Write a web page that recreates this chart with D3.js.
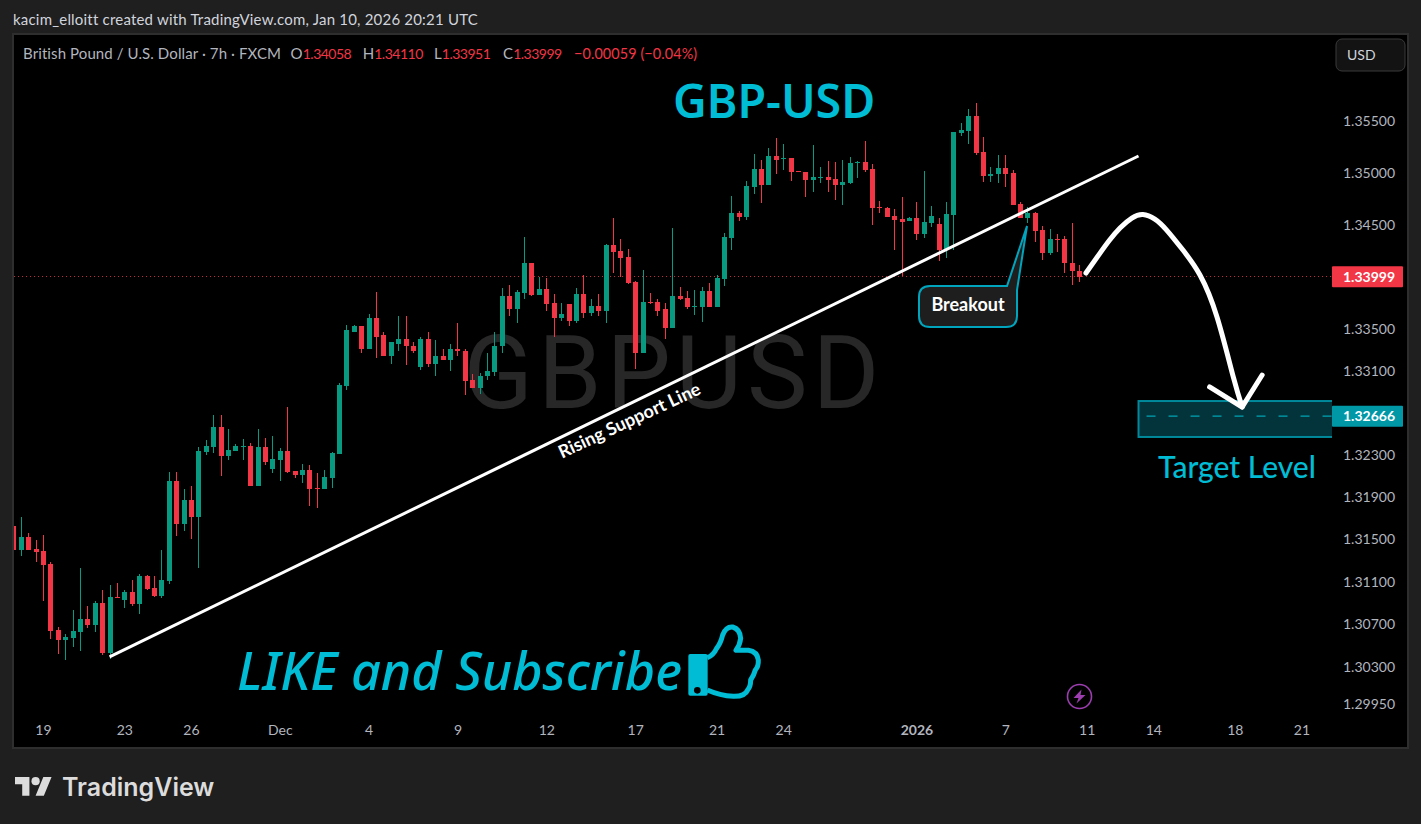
<!DOCTYPE html>
<html>
<head>
<meta charset="utf-8">
<script src="https://cdn.jsdelivr.net/npm/d3@7/dist/d3.min.js"></script>
<style>
  html, body { margin: 0; padding: 0; background: #1f1f1f; overflow: hidden; }
  text { font-family: Lato, "Open Sans", sans-serif; }
</style>
</head>
<body>
<div id="chart"></div>
<script>
// 1: DATA (one entry per 7h candle)
const candleOpen = [
  1.31620,1.31402,1.31525,1.31412,1.31393,1.31270,1.30646,1.30552,1.30571,1.30628,
  1.30750,1.30694,1.30902,1.30429,1.30958,1.30930,1.31006,1.30892,1.31157,1.31043,
  1.30968,1.31110,1.32055,1.31639,1.31875,1.31705,1.32329,1.32376,1.32565,1.32291,
  1.32338,1.32376,1.32385,1.32007,1.32376,1.32168,1.32253,1.32338,1.32149,1.32111,
  1.32158,1.31988,1.31970,1.32083,1.32306,1.32957,1.33474,1.33522,1.33311,1.33608,
  1.33436,1.33235,1.33359,1.33398,1.33340,1.33130,1.33398,1.33168,1.33244,1.33197,
  1.33302,1.33292,1.33015,1.32938,1.33044,1.33091,1.33331,1.33819,1.33685,1.33847,
  1.34134,1.33828,1.33886,1.33752,1.33608,1.33733,1.33570,1.33838,1.33656,1.33723,
  1.33666,1.34307,1.34249,1.34192,1.33953,1.33264,1.33761,1.33761,1.33685,1.33512,
  1.33815,1.33796,1.33709,1.33709,1.33863,1.33709,1.33979,1.34375,1.34617,1.34578,
  1.34868,1.35042,1.34887,1.35167,1.35138,1.35148,1.35022,1.35013,1.34935,1.34955,
  1.34964,1.34945,1.34887,1.34906,1.35100,1.35109,1.35042,1.34675,1.34665,1.34588,
  1.34559,1.34532,1.34561,1.34407,1.34513,1.34503,1.34252,1.34590,1.35391,1.35410,
  1.35555,1.35208,1.34976,1.34986,1.35053,1.35005,1.34696,1.34561,1.34609,1.34445,
  1.34223,1.34358,1.34358,1.34136,1.34058
];
const candleHigh = [
  1.31771,1.31714,1.31560,1.31488,1.31544,1.31289,1.30675,1.30609,1.30835,1.31232,
  1.30873,1.30921,1.31024,1.31072,1.31091,1.31024,1.31119,1.31176,1.31166,1.31157,
  1.31402,1.32140,1.32140,1.31970,1.32007,1.32376,1.32442,1.32678,1.32678,1.32546,
  1.32404,1.32451,1.32414,1.32546,1.32461,1.32480,1.32366,1.32754,1.32149,1.32215,
  1.32206,1.32130,1.32158,1.32329,1.32985,1.33532,1.33541,1.33522,1.33637,1.33857,
  1.33465,1.33369,1.33627,1.33627,1.33369,1.33426,1.33465,1.33388,1.33302,1.33350,
  1.33560,1.33311,1.33072,1.33082,1.33273,1.33474,1.33895,1.33924,1.33876,1.34383,
  1.34134,1.34001,1.33991,1.33838,1.33752,1.33742,1.33895,1.34020,1.33790,1.33838,
  1.34316,1.34565,1.34364,1.34268,1.33962,1.34067,1.33847,1.33790,1.33752,1.34469,
  1.33902,1.33863,1.33873,1.33902,1.33940,1.34018,1.34423,1.34781,1.34636,1.34926,
  1.35187,1.35129,1.35245,1.35341,1.35283,1.35148,1.35022,1.35013,1.35273,1.35061,
  1.35119,1.35109,1.35129,1.35158,1.35119,1.35312,1.35090,1.34733,1.34675,1.34655,
  1.34771,1.34571,1.34715,1.35024,1.34677,1.34561,1.34715,1.35401,1.35488,1.35623,
  1.35681,1.35352,1.35063,1.35179,1.35179,1.35034,1.34715,1.34667,1.34619,1.34484,
  1.34455,1.34407,1.34387,1.34513,1.34110
];
const candleLow = [
  1.31377,1.31339,1.31402,1.31289,1.30921,1.30561,1.30420,1.30363,1.30486,1.30448,
  1.30665,1.30628,1.30410,1.30372,1.30949,1.30854,1.30873,1.30798,1.31024,1.30958,
  1.30949,1.31081,1.31535,1.31573,1.31506,1.31232,1.32300,1.32319,1.32102,1.32253,
  1.32338,1.32253,1.32007,1.32007,1.32206,1.32130,1.32055,1.32130,1.32083,1.32036,
  1.31809,1.31799,1.31970,1.31988,1.32306,1.32919,1.33465,1.33273,1.33311,1.33216,
  1.33235,1.33168,1.33283,1.33158,1.33264,1.33110,1.33139,1.33053,1.33197,1.33101,
  1.33235,1.32871,1.32938,1.32881,1.33015,1.33044,1.33264,1.33627,1.33551,1.33790,
  1.33819,1.33828,1.33675,1.33426,1.33570,1.33522,1.33560,1.33599,1.33618,1.33618,
  1.33551,1.34039,1.34001,1.33933,1.33120,1.33264,1.33733,1.33618,1.33407,1.33503,
  1.33776,1.33689,1.33631,1.33564,1.33709,1.33709,1.33911,1.34259,1.34539,1.34549,
  1.34800,1.34713,1.34887,1.34993,1.35032,1.34926,1.35013,1.34771,1.34819,1.34906,
  1.34819,1.34742,1.34694,1.34897,1.34955,1.35013,1.34501,1.34617,1.34578,1.34259,
  1.34008,1.34532,1.34349,1.34368,1.34474,1.34146,1.34175,1.34252,1.35362,1.35285,
  1.35179,1.34918,1.34918,1.34899,1.34860,1.34686,1.34561,1.34513,1.34329,1.34165,
  1.34204,1.34233,1.34040,1.33924,1.33951
];
const candleClose = [
  1.31402,1.31525,1.31402,1.31384,1.31261,1.30637,1.30552,1.30580,1.30637,1.30750,
  1.30694,1.30902,1.30429,1.30958,1.30949,1.31006,1.30892,1.31157,1.31034,1.30968,
  1.31119,1.32055,1.31639,1.31875,1.31705,1.32338,1.32385,1.32565,1.32291,1.32347,
  1.32385,1.32385,1.32007,1.32376,1.32234,1.32262,1.32338,1.32140,1.32111,1.32158,
  1.31979,1.31970,1.32092,1.32319,1.32967,1.33484,1.33522,1.33311,1.33608,1.33426,
  1.33235,1.33369,1.33398,1.33331,1.33292,1.33398,1.33168,1.33244,1.33197,1.33302,
  1.33292,1.33005,1.32938,1.33053,1.33101,1.33340,1.33819,1.33685,1.33857,1.34134,
  1.33828,1.33886,1.33742,1.33608,1.33646,1.33570,1.33838,1.33656,1.33723,1.33666,
  1.34307,1.34240,1.34182,1.33943,1.33264,1.33761,1.33752,1.33675,1.33512,1.33819,
  1.33786,1.33709,1.33718,1.33863,1.33709,1.33989,1.34385,1.34617,1.34578,1.34877,
  1.35042,1.34887,1.35167,1.35129,1.35148,1.35013,1.35013,1.34935,1.34964,1.34964,
  1.34935,1.34887,1.34916,1.35100,1.35109,1.35032,1.34665,1.34665,1.34578,1.34549,
  1.34530,1.34561,1.34407,1.34522,1.34580,1.34252,1.34600,1.35401,1.35420,1.35555,
  1.35198,1.34976,1.34995,1.35053,1.34995,1.34686,1.34561,1.34609,1.34436,1.34223,
  1.34358,1.34349,1.34127,1.34050,1.33999
];
const priceTicks = [1.355,1.35,1.345,1.335,1.331,1.323,1.319,1.315,1.311,1.307,1.303,1.2995];
const timeTicks = [4,15,24,36,48,60,72,84,95,104,122,134,145,154,165,174];
const timeLabels = ["19","23","26","Dec","4","9","12","17","21","24","2026","7","11","14","18","21"];
const lastPrice = 1.33999;
const targetPrice = 1.32666;
const targetBox = { top: 1.3281, bottom: 1.32468, from: 152, to: 179 };
const supportIdx = [13, 152];
const supportPrice = [1.30394, 1.35165];
const arrowIdx = [144.9,146.8,148.1,149.5,151.1,152.6,154.2,155.8,158,160.3,162.6,164.8,166];
const arrowPrice = [1.34035,1.34227,1.34353,1.34469,1.34565,1.34599,1.34555,1.34449,1.34256,1.34016,1.33613,1.33040,1.32753];
const headIdx = [161.6,166,168.7];
const headPrice = [1.32944,1.32753,1.33058];

// 2: PAGE AND PANE
const red = "#f23645", green = "#089981", cyan = "#00bcd4";
const pane = { left: 14, top: 35, right: 1407, bottom: 747 };

const svg = d3.select("#chart").append("svg")
    .attr("width", 1421)
    .attr("height", 824)
    .style("display", "block");

svg.append("rect").attr("width", 1421).attr("height", 824).attr("fill", "#1f1f1f");
svg.append("rect")
    .attr("x", pane.left - 1).attr("y", pane.top - 1)
    .attr("width", pane.right - pane.left + 2).attr("height", pane.bottom - pane.top + 2)
    .attr("fill", "#000")
    .attr("stroke", "#2e2e2e")
    .attr("stroke-width", 2);

svg.append("clipPath").attr("id", "paneClip").append("rect")
    .attr("x", pane.left).attr("y", pane.top)
    .attr("width", 1332 - pane.left).attr("height", pane.bottom - pane.top);

// 3: SCALES
const xScale = d3.scaleLinear().domain([0, 144]).range([13.3, 1079.3]);
const yScale = d3.scaleLog().domain([1.2995, 1.355]).range([704.5, 121.5]);

// 4: WATERMARK
svg.append("text")
    .attr("x", 674).attr("y", 408)
    .attr("text-anchor", "middle")
    .style("font-family", "Roboto")
    .style("font-size", "102px")
    .style("letter-spacing", "5px")
    .attr("fill", "#272727")
    .text("GBPUSD");

// 5: LAST PRICE LINE AND CANDLES
const plot = svg.append("g").attr("clip-path", "url(#paneClip)");

plot.append("line")
    .attr("x1", pane.left).attr("x2", 1332)
    .attr("y1", Math.floor(yScale(lastPrice)) + 0.5).attr("y2", Math.floor(yScale(lastPrice)) + 0.5)
    .attr("stroke", red)
    .attr("stroke-opacity", 0.8)
    .attr("stroke-dasharray", "1,3");

const candles = plot.selectAll(".candle")
    .data(candleOpen.map((o, i) => ({ i, o, h: candleHigh[i], l: candleLow[i], c: candleClose[i] })))
    .enter()
    .append("g")
    .attr("class", "candle")
    .attr("fill", d => d.c >= d.o ? green : red)
    .attr("shape-rendering", "crispEdges");

candles.append("rect")
    .attr("x", d => Math.round(xScale(d.i)))
    .attr("width", 1)
    .attr("y", d => Math.round(yScale(d.h)))
    .attr("height", d => Math.max(1, Math.round(yScale(d.l)) - Math.round(yScale(d.h))));

candles.append("rect")
    .attr("x", d => Math.round(xScale(d.i)) - 2)
    .attr("width", 5)
    .attr("y", d => Math.round(yScale(Math.max(d.o, d.c))))
    .attr("height", d => Math.max(1, Math.round(yScale(Math.min(d.o, d.c))) - Math.round(yScale(Math.max(d.o, d.c)))));

// 6: SUPPORT LINE
plot.append("line")
    .attr("x1", xScale(supportIdx[0])).attr("y1", yScale(supportPrice[0]))
    .attr("x2", xScale(supportIdx[1])).attr("y2", yScale(supportPrice[1]))
    .attr("stroke", "#fff")
    .attr("stroke-width", 3);

svg.append("text")
    .attr("transform", "translate(632,426) rotate(-25)")
    .attr("text-anchor", "middle")
    .style("font-size", "18px")
    .style("font-weight", 700)
    .attr("fill", "#fff")
    .text("Rising Support Line");

// 7: TARGET BOX
const boxX = xScale(targetBox.from), boxX2 = xScale(targetBox.to);
plot.append("rect")
    .attr("x", boxX)
    .attr("y", yScale(targetBox.top))
    .attr("width", boxX2 - boxX)
    .attr("height", yScale(targetBox.bottom) - yScale(targetBox.top))
    .attr("fill", "#03333b")
    .attr("stroke", "#00899b")
    .attr("stroke-width", 2);

plot.append("line")
    .attr("x1", boxX + 8).attr("x2", boxX2)
    .attr("y1", yScale(targetPrice)).attr("y2", yScale(targetPrice))
    .attr("stroke", "#00a5b5")
    .attr("stroke-width", 1.3)
    .attr("stroke-dasharray", "9,13");

svg.append("text")
    .attr("x", 1158).attr("y", 478)
    .style("font-size", "30px")
    .style("font-weight", 500)
    .attr("fill", cyan)
    .text("Target Level");

// 8: ARROW
const arrowLine = d3.line()
    .x(d => xScale(d[0]))
    .y(d => yScale(d[1]));

plot.append("path")
    .attr("d", arrowLine.curve(d3.curveNatural)(arrowIdx.map((d, i) => [d, arrowPrice[i]])))
    .attr("fill", "none")
    .attr("stroke", "#fff")
    .attr("stroke-width", 5)
    .attr("stroke-linecap", "round");

plot.append("path")
    .attr("d", arrowLine.curve(d3.curveLinear)(headIdx.map((d, i) => [d, headPrice[i]])))
    .attr("fill", "none")
    .attr("stroke", "#fff")
    .attr("stroke-width", 5)
    .attr("stroke-linecap", "round")
    .attr("stroke-linejoin", "round");

// 9: BREAKOUT CALLOUT
svg.append("path")
    .attr("d", "M930,286 H1007 L1027,226 L1017,290 V316 Q1017,327 1006,327 H930 Q919,327 919,316 V297 Q919,286 930,286 Z")
    .attr("fill", "#1e1e1e")
    .attr("stroke", "#00a5bd")
    .attr("stroke-width", 2);

svg.append("text")
    .attr("x", 968).attr("y", 311)
    .attr("text-anchor", "middle")
    .style("font-size", "18px")
    .style("font-weight", 700)
    .attr("fill", "#fff")
    .text("Breakout");

// 10: BIG TITLES
svg.append("text")
    .attr("x", 673).attr("y", 118)
    .style("font-family", "Noto Sans")
    .style("font-size", "46.5px")
    .style("font-weight", 600)
    .attr("fill", cyan)
    .text("GBP-USD");

svg.append("text")
    .attr("x", 237).attr("y", 690)
    .style("font-family", "Noto Sans")
    .style("font-size", "52px")
    .style("font-style", "italic")
    .style("font-weight", 500)
    .attr("fill", cyan)
    .text("LIKE and Subscribe");

// thumbs up icon, drawn at 3x and scaled down
const thumb = svg.append("g").attr("transform", "translate(680,615) scale(0.3333)");
thumb.append("path")
    .attr("d", "M82,128 Q100,122 110,100 Q122,85 128,60 Q138,34 158,36 Q180,42 182,70 Q180,90 168,106 L205,106 Q232,110 235,135 Q236,155 226,165 Q222,180 212,195 Q212,215 203,225 Q195,245 160,244 Q120,242 82,225")
    .attr("fill", "none")
    .attr("stroke", cyan)
    .attr("stroke-width", 15)
    .attr("stroke-linejoin", "round");
thumb.append("rect")
    .attr("x", 25).attr("y", 117).attr("width", 58).attr("height", 125).attr("rx", 6)
    .attr("fill", cyan);
thumb.append("circle").attr("cx", 52).attr("cy", 226).attr("r", 10).attr("fill", "#000");

// 11: AXES
const yAxis = svg.append("g")
    .attr("transform", "translate(1343,0)")
    .call(d3.axisRight(yScale).tickValues(priceTicks).tickSize(0).tickPadding(0).tickFormat(d3.format(".5f")));
yAxis.select(".domain").remove();
yAxis.selectAll("text")
    .style("font-family", "Lato")
    .style("font-size", "14px")
    .attr("fill", "#b2b5be");

const xAxis = svg.append("g")
    .attr("transform", "translate(0,725)")
    .call(d3.axisBottom(xScale).tickValues(timeTicks).tickSize(0).tickPadding(0).tickFormat((d, i) => timeLabels[i]));
xAxis.select(".domain").remove();
xAxis.selectAll("text")
    .style("font-family", "Lato")
    .style("font-size", "14px")
    .style("font-weight", d => d === 122 ? 700 : 400)
    .attr("fill", "#b2b5be");

// price tags on the axis
[[lastPrice, red], [targetPrice, "#0097a7"]].forEach(([p, c]) => {
    svg.append("rect")
        .attr("x", 1332).attr("y", yScale(p) - 10.5)
        .attr("width", 71).attr("height", 21).attr("rx", 1)
        .attr("fill", c);
    svg.append("text")
        .attr("x", 1343).attr("y", yScale(p) + 5)
        .style("font-size", "14px")
        .style("font-weight", 700)
        .attr("fill", "#fff")
        .text(d3.format(".5f")(p));
});

// 12: HEADER AND LEGEND
svg.append("text")
    .attr("x", 13).attr("y", 25)
    .style("font-size", "15px")
    .style("letter-spacing", "0.2px")
    .attr("fill", "#d1d4dc")
    .text("kacim_elloitt created with TradingView.com, Jan 10, 2026 20:21 UTC");

const legendText = svg.append("text")
    .attr("y", 59)
    .style("font-size", "15px")
    .style("letter-spacing", "0.1px")
    .attr("fill", "#b2b5be");
legendText.append("tspan").attr("x", 23).text("British Pound / U.S. Dollar · 7h · FXCM");
[["O", "1.34058", 290.6], ["H", "1.34110", 362.7], ["L", "1.33951", 434], ["C", "1.33999", 503]].forEach(([k, v, lx]) => {
    legendText.append("tspan").attr("x", lx).text(k);
    legendText.append("tspan").attr("fill", red)
        .style("font-size", "14px")
        .style("letter-spacing", "-0.5px")
        .text(v);
});
legendText.append("tspan").attr("x", 574).attr("fill", red).style("font-size", "14.4px").text("−0.00059 (−0.04%)");

// 13: USD BUTTON, BOLT ICON, LOGO
svg.append("rect")
    .attr("x", 1336).attr("y", 39).attr("width", 69).attr("height", 32).attr("rx", 6)
    .attr("fill", "#131313")
    .attr("stroke", "#3a3a3a");
svg.append("text")
    .attr("x", 1347).attr("y", 60)
    .style("font-size", "14px")
    .attr("fill", "#d1d4dc")
    .text("USD");

const bolt = svg.append("g").attr("transform", "translate(1079.5,696.5)");
bolt.append("circle").attr("r", 12).attr("fill", "none").attr("stroke", "#9c3db0").attr("stroke-width", 1.6);
bolt.append("path")
    .attr("d", "M2,-7 L-6,1.5 H-1 L-3,7 L6,-1.5 H1 Z")
    .attr("fill", "#9c3db0");

const logo = svg.append("g").attr("transform", "translate(15,773) scale(1.03)").attr("fill", "#dcdcdc");
logo.append("path").attr("d", "M14 22H7V11H0V4h14v18zM28 22h-8l7.5-18h8L28 22z");
logo.append("circle").attr("cx", 20).attr("cy", 8).attr("r", 4);
svg.append("text")
    .attr("x", 62).attr("y", 796)
    .style("font-family", "Inter")
    .style("font-size", "25px")
    .style("font-weight", 600)
    .attr("fill", "#dcdcdc")
    .text("TradingView");
</script>
</body>
</html>
